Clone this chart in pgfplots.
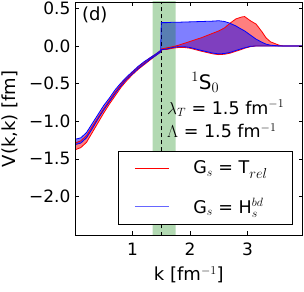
\documentclass[border=0pt]{standalone}
\usepackage{fontspec}
\setmainfont{DejaVu Sans}
\usepackage{pgfplots}
\pgfplotsset{compat=1.18}
\usepackage{pgfplotstable}
\usepgfplotslibrary{fillbetween}

\pgfplotstableread{
k bu bl ru rl
0.00 -1.24 -1.31 -1.29 -1.38
0.10 -1.22 -1.29 -1.26 -1.35
0.20 -1.15 -1.22 -1.19 -1.28
0.30 -1.03 -1.10 -1.07 -1.15
0.40 -0.91 -0.97 -0.95 -1.02
0.50 -0.79 -0.85 -0.83 -0.89
0.60 -0.69 -0.74 -0.72 -0.77
0.70 -0.58 -0.63 -0.61 -0.66
0.80 -0.49 -0.53 -0.51 -0.55
0.90 -0.41 -0.44 -0.42 -0.46
1.00 -0.34 -0.37 -0.35 -0.38
1.10 -0.27 -0.30 -0.28 -0.31
1.20 -0.21 -0.24 -0.22 -0.25
1.30 -0.16 -0.18 -0.16 -0.19
1.40 -0.11 -0.13 -0.11 -0.13
1.49 -0.06 -0.08 -0.06 -0.08
1.50 0.31 -0.05 -0.04 -0.05
1.60 0.31 -0.04 -0.025 -0.045
1.70 0.315 -0.02 -0.01 -0.03
1.80 0.315 -0.01 0.01 -0.02
1.90 0.318 -0.01 0.035 -0.02
2.00 0.32 -0.02 0.06 -0.03
2.20 0.325 -0.06 0.11 -0.07
2.40 0.33 -0.095 0.17 -0.105
2.50 0.335 -0.105 0.20 -0.115
2.60 0.325 -0.10 0.24 -0.11
2.70 0.30 -0.085 0.305 -0.095
2.80 0.265 -0.06 0.36 -0.07
2.90 0.22 -0.035 0.385 -0.045
2.95 0.20 -0.025 0.39 -0.03
3.05 0.145 -0.005 0.335 -0.01
3.15 0.09 0.0 0.29 0.0
3.25 0.05 0.0 0.19 0.0
3.32 0.025 0.0 0.11 0.0
3.40 0.01 0.0 0.055 0.0
3.55 0.0 0.0 0.01 0.0
3.62 0.0 0.0 0.0 0.0
3.96 0.0 0.0 0.0 0.0
}\data

\begin{document}
\begin{tikzpicture}
\begin{axis}[
  scale only axis, width=227.7pt, height=233.5pt,
  xmin=0, xmax=3.96, ymin=-2.517, ymax=0.584,
  font=\fontsize{17}{20}\selectfont,
  axis line style={line width=0.8pt},
  tick style={black, line width=0.8pt},
  tick align=inside,
  major tick length=4pt,
  xtick={1,2,3}, xticklabels={1,2,3},
  ytick={-2,-1.5,-1,-0.5,0,0.5},
  yticklabels={−2.0,−1.5,−1.0,−0.5,0.0,0.5},
  xticklabel style={yshift=-4pt},
  yticklabel style={xshift=-1pt},
  xlabel={k [fm$^{-1}$]},
  ylabel={V(k,k) [fm]},
  xlabel style={at={(axis description cs:0.5,-0.169)}, anchor=center, font=\fontsize{18}{21}\selectfont},
  ylabel style={at={(axis description cs:-0.2855,0.5)}, anchor=center, font=\fontsize{18}{21}\selectfont},
  axis on top,
  legend style={at={(1,0)}, anchor=south east, xshift=-10pt, yshift=10.5pt,
    draw=black, line width=0.8pt, inner xsep=16pt, inner ysep=10pt,
    nodes={inner sep=0pt},
    row sep=23pt, column sep=24pt, font=\fontsize{17.5}{21}\selectfont},
  legend cell align=left,
  legend image code/.code={\draw[#1, line width=0.8pt] (0pt,0pt) -- (34pt,0pt);},
]
\addplot[name path=ru, draw=none, forget plot] table[x=k,y=ru]{\data};
\addplot[name path=rl, draw=none, forget plot] table[x=k,y=rl]{\data};
\addplot[name path=bu, draw=none, forget plot] table[x=k,y=bu]{\data};
\addplot[name path=bl, draw=none, forget plot] table[x=k,y=bl]{\data};
\addplot[fill=red, fill opacity=0.5, draw=none, forget plot] fill between[of=ru and rl];
\addplot[fill=blue, fill opacity=0.5, draw=none, forget plot] fill between[of=bu and bl];
\addplot[fill={rgb,255:red,0;green,128;blue,0}, fill opacity=0.3, draw=none, forget plot]
  coordinates {(1.35,-2.6) (1.75,-2.6) (1.75,0.7) (1.35,0.7)} \closedcycle;
\addplot[black, line width=0.8pt, dash pattern=on 4pt off 3pt, forget plot]
  coordinates {(1.5,-2.517) (1.5,0.584)};
\addplot[red, line width=0.8pt, forget plot] table[x=k,y=ru]{\data};
\addplot[red, line width=0.8pt, forget plot] table[x=k,y=rl]{\data};
\addplot[blue, line width=0.8pt, forget plot] table[x=k,y=bu]{\data};
\addplot[blue, line width=0.8pt, forget plot] table[x=k,y=bl]{\data};
\addlegendimage{draw=red}
\addlegendentry{\makebox[83pt][l]{G$_s$ = T$_{\mbox{\fontsize{14}{16}\selectfont$rel$}}$}}
\addlegendimage{draw={rgb,255:red,102;green,102;blue,255}}
\addlegendentry{\makebox[83pt][l]{G$_s$ = H$_s^{bd}$}}
\node[font=\fontsize{18}{21}\selectfont] at (axis cs:0.344,0.41) {(d)};
\node[anchor=base west, inner sep=0pt, font=\fontsize{20}{24}\selectfont] at (axis cs:2.02,-0.575) {$^1$S$_0$};
\node[anchor=base west, inner sep=0pt, font=\fontsize{17.5}{21}\selectfont] at (axis cs:1.6,-0.907) {$\lambda_T$ = 1.5 fm$^{-1}$};
\node[anchor=base west, inner sep=0pt, font=\fontsize{17.5}{21}\selectfont] at (axis cs:1.6,-1.218) {$\Lambda$ = 1.5 fm$^{-1}$};
\end{axis}
\pgfresetboundingbox
\path[use as bounding box] (-75pt,-55.5pt) rectangle (229pt,235.5pt);
\end{tikzpicture}
\end{document}
